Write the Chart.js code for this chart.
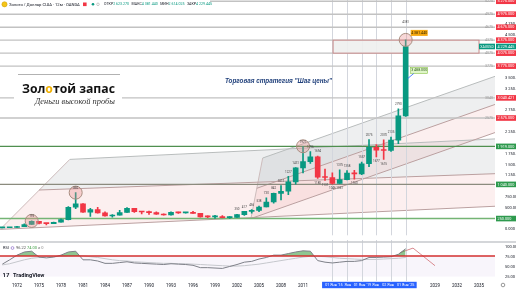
<!DOCTYPE html>
<html>
<head>
<meta charset="utf-8">
<script src="https://cdn.jsdelivr.net/npm/chart.js@4.4.0/dist/chart.umd.min.js"></script>
<style>
html, body { margin: 0; padding: 0; background: #fff; }
#wrap { position: relative; width: 516px; height: 290px; overflow: hidden; }
#price { position: absolute; left: 0; top: 0; }
#rsi { position: absolute; left: 0; top: 240px; }
</style>
</head>
<body>
<div id="wrap">
<canvas id="price" width="516" height="240"></canvas>
<canvas id="rsi" width="516" height="50"></canvas>
</div>
<script>
// yearly candles, XAUUSD
var years = [1970,1971,1972,1973,1974,1975,1976,1977,1978,1979,
  1980,1981,1982,1983,1984,1985,1986,1987,1988,1989,
  1990,1991,1992,1993,1994,1995,1996,1997,1998,1999,
  2000,2001,2002,2003,2004,2005,2006,2007,2008,2009,
  2010,2011,2012,2013,2014,2015,2016,2017,2018,2019,
  2020,2021,2022,2023,2024,2025];
var opens = [35.2,37.4,43.6,64.9,112.3,186.5,140.3,134.5,165.0,226.0,
  512.0,589.5,397.5,456.9,381.5,309.0,327.0,390.9,486.5,410.1,
  401.0,386.2,353.2,332.9,391.8,383.3,387.0,369.2,290.2,287.8,
  288.7,272.7,279.0,342.8,416.3,438.0,517.1,632.0,833.8,882.1,
  1096.5,1421.2,1565.8,1675.3,1204.5,1199.3,1061.0,1151.7,1302.7,1281.7,
  1517.3,1897.4,1828.6,1824.0,2062.8,2623.27];
var highs = [39.2,43.9,70.0,127.0,195.0,186.5,140.9,168.2,243.7,525.0,
  850.0,599.3,488.5,511.0,406.0,340.0,442.8,502.3,485.0,417.2,
  424.0,403.0,360.0,406.7,397.5,396.3,415.7,367.8,313.2,326.0,
  316.6,293.3,349.9,417.3,456.2,537.6,730.0,841.9,1011.3,1226.6,
  1431.3,1921.2,1796.1,1694.4,1392.0,1307.5,1375.1,1357.6,1366.1,1557.0,
  2075.2,1959.2,2070.4,2135.4,2790.1,4381.44];
var lows = [34.9,37.3,43.6,63.8,112.3,128.8,103.5,129.4,165.0,216.0,
  481.5,391.3,297.0,374.5,303.3,284.3,326.3,390.0,389.7,356.3,
  345.9,344.0,329.8,326.1,369.7,372.4,367.1,283.0,273.4,252.8,
  263.8,255.1,277.8,319.9,373.3,411.1,516.6,603.8,681.0,802.6,
  1043.2,1307.4,1527.0,1180.1,1131.4,1046.2,1061.0,1146.2,1160.4,1266.1,
  1451.2,1676.9,1614.9,1804.3,1984.3,2614.025];
var closes = [37.4,43.6,64.9,112.3,186.5,140.3,134.5,165.0,226.0,512.0,
  589.5,397.5,456.9,381.5,309.0,327.0,390.9,486.5,410.1,401.0,
  386.2,353.2,332.9,391.8,383.3,387.0,369.2,290.2,287.8,288.7,
  272.7,279.0,342.8,416.3,438.0,517.1,632.0,833.8,882.1,1096.5,
  1421.2,1565.8,1675.3,1204.5,1199.3,1061.0,1151.7,1302.7,1281.7,1517.3,
  1897.4,1828.6,1824.0,2062.8,2623.27,4229.445];

// RSI(14) and its moving average
var rsiVals = [57,68,80,88,90,75,73,75,80,88,
  90,68,68,65,59,59,61,63,60,59,
  58,57,56,58,57,56,54,48,48,47,
  46,51,56,62,64,70,74,80,80,84,
  88,91,90,66,62,60,62,64,64,66,
  74,74,75,76,82,96.22];
var rsiMa = [55,58,63,68,72,74,76,76,77,78,
  79,78,76,74,71,68,66,65,63,62,
  61,60,59,59,58,58,57,56,55,54,
  53,52,52,53,55,57,60,63,66,69,
  72,75,77,77,76,74,72,71,70,69,
  69,69,70,71,72,74];
var rsiLevel = 78;
var rsiDrawX = [2024.2, 2026.0, 2029.0];
var rsiDrawY = [86, 98, 53];

// axis ticks
var priceTicks = [0,500,750,1250,1500,1750,2250,2750,3250,3500,4250,4500,4750];
var rsiTicks = [25,50,75,100];
var yearTicks = [1972,1975,1978,1981,1984,1987,1990,1993,1996,1999,2002,2005,2008,2011,2029,2032,2035];
var rangeYears = [2015.2,2017.1,2019.1,2020.9,2022.6,2025];
var rangeLabels = ["01 Янв '15","Янв","01 Янв '19","Янв","02 Янв","01 Янв '25"];

// drawings (year, price)
var resistLevels = [5275,4975,4675,4375,4075,3775,3040.421,2575];
var supportLevels = [1919,1040,250];
var markerYears = [2015,2017,2019,2021,2023,2025];
var chanOneTop = [[1979.2,1618],[2037.2,2092]];
var chanOneMid = [[1975.0,910],[2037.2,1288]];
var chanOneBot = [[1969.7,0],[2037.2,535]];
var chanTwoTop = [[2005.5,1650],[2037.2,3540]];
var chanTwoMid = [[2004.7,950],[2037.2,2890]];
var chanTwoBot = [[2003.9,250],[2037.2,2240]];
var zoneBox = [[2015.1,4375],[2035.0,4075]];
var circleMarks = [[1974,195],[1980,850],[2011,1921.2],[2025,4381.44]];
var noteLevel = 3488;
var highNoteYears = [1974,1980,2002,2003,2004,2005,2006,2007,2008,2009,2010,2011,2012,2013,2016,2017,2019,2020,2022,2023,2024,2025];
var lowNoteYears = [2013,2014,2015,2016,2018,2021,2022];

var FONT = 'Roboto, "Liberation Sans", sans-serif';
var GREEN = '#089981', RED = '#f23645';
var xMin = 1969.68, xMax = 2037.18;
Chart.defaults.font.family = FONT;

function fmtPrice(v) {
  var p = v.toFixed(3).split('.');
  var i = p[0];
  if (i.length > 3) i = i.slice(0, -3) + ' ' + i.slice(-3);
  return i + '.' + p[1];
}
function fitFont(c, text, style, family, width, base) {
  c.font = style + ' ' + base + 'px ' + family;
  var s = base * width / c.measureText(text).width;
  c.font = style + ' ' + s + 'px ' + family;
}

var candleColors = years.map(function (y, i) { return closes[i] >= opens[i] ? GREEN : RED; });

var pricePlugin = {
  id: 'priceOverlay',
  beforeDatasetsDraw: function (chart) {
    var c = chart.ctx, a = chart.chartArea, X = chart.scales.x, Y = chart.scales.y;
    var px = function (v) { return X.getPixelForValue(v); };
    var py = function (v) { return Y.getPixelForValue(v); };
    c.save();
    c.beginPath(); c.rect(a.left, 0, a.right - a.left, a.bottom); c.clip();

    function band(top, bot, fill) {
      c.beginPath();
      c.moveTo(px(top[0][0]), py(top[0][1]));
      c.lineTo(px(top[1][0]), py(top[1][1]));
      c.lineTo(px(bot[1][0]), py(bot[1][1]));
      c.lineTo(px(bot[0][0]), py(bot[0][1]));
      c.closePath(); c.fillStyle = fill; c.fill();
    }
    function seg(l, col) {
      c.beginPath();
      c.moveTo(px(l[0][0]), py(l[0][1])); c.lineTo(px(l[1][0]), py(l[1][1]));
      c.strokeStyle = col; c.lineWidth = 1; c.stroke();
    }
    band(chanOneTop, chanOneMid, 'rgba(120,135,140,0.13)');
    band(chanOneMid, chanOneBot, 'rgba(225,95,95,0.10)');
    band(chanTwoTop, chanTwoMid, 'rgba(120,135,140,0.13)');
    band(chanTwoMid, chanTwoBot, 'rgba(225,95,95,0.10)');
    seg([chanOneBot[0], chanOneTop[0]], '#cdbcbc');
    seg([chanTwoBot[0], chanTwoTop[0]], '#cdbcbc');
    seg(chanOneTop, '#b9bdbd'); seg(chanOneMid, '#bba0a0'); seg(chanOneBot, '#bba0a0');
    seg(chanTwoTop, '#b9bdbd'); seg(chanTwoMid, '#bba0a0'); seg(chanTwoBot, '#bba0a0');

    // vertical markers
    c.strokeStyle = '#d3d6dd'; c.lineWidth = 1;
    markerYears.forEach(function (yr) {
      var x = Math.round(px(yr)) + 0.5;
      c.beginPath(); c.moveTo(x, 0); c.lineTo(x, a.bottom); c.stroke();
    });

    // horizontal levels
    c.lineWidth = 1.4;
    resistLevels.forEach(function (v) {
      c.strokeStyle = '#c2c2c2';
      c.beginPath(); c.moveTo(a.left, py(v)); c.lineTo(a.right, py(v)); c.stroke();
    });
    var supCols = ['#4f8f4f', '#8b8b7e', '#74b474'];
    supportLevels.forEach(function (v, i) {
      c.strokeStyle = supCols[i];
      c.beginPath(); c.moveTo(a.left, py(v)); c.lineTo(a.right, py(v)); c.stroke();
    });

    // zone rectangle
    var bx0 = px(zoneBox[0][0]), by0 = py(zoneBox[0][1]), bx1 = px(zoneBox[1][0]), by1 = py(zoneBox[1][1]);
    c.fillStyle = 'rgba(238,240,238,0.9)';
    c.fillRect(bx0, by0, bx1 - bx0, by1 - by0);
    c.strokeStyle = '#c98b8b'; c.lineWidth = 1;
    c.strokeRect(bx0, by0, bx1 - bx0, by1 - by0);

    // logo block
    c.fillStyle = '#fff';
    c.fillRect(14, 74, 108, 32);
    c.strokeStyle = '#9e9e9e'; c.lineWidth = 0.8;
    c.beginPath(); c.moveTo(18, 74.5); c.lineTo(120, 74.5); c.stroke();
    var title = ['Зол', 'о', 'той запас'];
    fitFont(c, title.join(''), 'bold', '"Open Sans", sans-serif', 93, 13);
    c.textBaseline = 'alphabetic'; c.textAlign = 'left';
    var tx = 22;
    title.forEach(function (t, i) {
      c.fillStyle = i === 1 ? '#f0b000' : '#111';
      c.fillText(t, tx, 92.5);
      tx += c.measureText(t).width;
    });
    fitFont(c, 'Деньги высокой пробы', 'italic', '"Liberation Serif", serif', 80, 8);
    c.fillStyle = '#333';
    c.fillText('Деньги высокой пробы', 35, 103.5);

    // strategy caption
    var cap = 'Торговая стратегия "Шаг цены"';
    fitFont(c, cap, 'bold italic', '"Liberation Sans", sans-serif', 107, 7);
    c.fillStyle = '#1f3f7a';
    c.fillText(cap, 225, 82.5);
    c.restore();
  },
  afterDatasetsDraw: function (chart) {
    var c = chart.ctx, a = chart.chartArea, X = chart.scales.x, Y = chart.scales.y;
    var px = function (v) { return X.getPixelForValue(v); };
    var py = function (v) { return Y.getPixelForValue(v); };
    c.save();

    // circles
    circleMarks.forEach(function (m) {
      c.beginPath(); c.arc(px(m[0]), py(m[1]), 6.5, 0, Math.PI * 2);
      c.fillStyle = 'rgba(235,140,140,0.35)'; c.fill();
      c.strokeStyle = '#a88d80'; c.lineWidth = 1; c.stroke();
    });

    // small price notes
    c.font = '3px ' + FONT; c.fillStyle = '#444'; c.textAlign = 'center';
    highNoteYears.forEach(function (yr) {
      var i = years.indexOf(yr);
      var off = yr === 2025 ? 16 : 3;
      c.textBaseline = 'bottom';
      c.fillText(String(Math.round(highs[i])), px(yr), py(highs[i]) - off);
    });
    lowNoteYears.forEach(function (yr) {
      var i = years.indexOf(yr);
      c.textBaseline = 'top';
      c.fillText(String(Math.round(lows[i])), px(yr), py(lows[i]) + 3);
    });

    // level captions near right edge
    c.font = '3.6px ' + FONT; c.fillStyle = '#9a9a9a'; c.textAlign = 'right'; c.textBaseline = 'middle';
    resistLevels.forEach(function (v) { c.fillText(String(Math.round(v)), a.right - 2, py(v)); });

    // high label (orange) and note label (green)
    var last = years.length - 1;
    var hx = px(years[last]) + 5, hy = py(highs[last]) - 7;
    c.fillStyle = '#f5a70f'; c.fillRect(hx, hy - 3, 17, 6);
    c.font = '3.6px ' + FONT; c.fillStyle = '#3a2a00'; c.textAlign = 'center';
    c.fillText(fmtPrice(highs[last]), hx + 8.5, hy);
    var ny = py(noteLevel) - 8;
    c.fillStyle = '#dff5c8'; c.fillRect(hx, ny - 3, 17, 6);
    c.strokeStyle = '#8bc34a'; c.lineWidth = 0.6; c.strokeRect(hx, ny - 3, 17, 6);
    c.fillStyle = '#2e5d1a'; c.fillText(fmtPrice(noteLevel), hx + 8.5, ny);
    c.strokeStyle = '#2962ff'; c.lineWidth = 0.8;
    c.beginPath(); c.moveTo(hx + 3, ny + 3); c.lineTo(px(years[last]) + 2, py(noteLevel)); c.stroke();
    c.restore();
  },
  afterDraw: function (chart) {
    var c = chart.ctx, a = chart.chartArea, Y = chart.scales.y;
    var py = function (v) { return Y.getPixelForValue(v); };
    c.save();
    c.font = '3.8px ' + FONT; c.textBaseline = 'middle'; c.textAlign = 'left';
    function tag(v, col, text) {
      var y = py(v);
      c.fillStyle = col; c.fillRect(a.right + 1, y - 2.8, 20, 5.6);
      c.fillStyle = '#fff'; c.fillText(text, a.right + 2.5, y + 0.2);
    }
    resistLevels.forEach(function (v) { tag(v, RED, fmtPrice(v)); });
    supportLevels.forEach(function (v) { tag(v, '#2e9a4e', fmtPrice(v)); });
    tag(closes[closes.length - 1], GREEN, fmtPrice(closes[closes.length - 1]));
    var cy = py(closes[closes.length - 1]);
    c.fillStyle = GREEN; c.fillRect(a.right - 16, cy - 2.8, 16, 5.6);
    c.fillStyle = '#fff'; c.textAlign = 'center'; c.font = '3.5px ' + FONT;
    c.fillText('XAUUSD', a.right - 8, cy + 0.2);

    // header
    c.fillStyle = '#fff'; c.fillRect(0, 0, 210, 8.5);
    c.beginPath(); c.arc(4.5, 4.3, 2.6, 0, Math.PI * 2);
    c.fillStyle = '#f5c518'; c.fill(); c.strokeStyle = '#c99a00'; c.lineWidth = 0.5; c.stroke();
    c.textAlign = 'left'; c.fillStyle = '#131722';
    fitFont(c, 'Золото / Доллар США · 12м · OANDA', '', FONT, 71, 4.5);
    c.fillText('Золото / Доллар США · 12м · OANDA', 9, 4.5);
    c.fillStyle = RED; c.fillRect(83, 2.5, 3.6, 3.6);
    c.beginPath(); c.arc(93, 4.3, 1.3, 0, Math.PI * 2); c.fillStyle = GREEN; c.fill();
    c.beginPath(); c.arc(98, 4.3, 1.3, 0, Math.PI * 2); c.strokeStyle = '#999'; c.lineWidth = 0.5; c.stroke();
    var parts = [['ОТКР', opens], ['МАКС', highs], ['МИН', lows], ['ЗАКР', closes]];
    var x = 104; c.font = '3.6px ' + FONT;
    parts.forEach(function (p) {
      c.fillStyle = '#131722'; c.fillText(p[0], x, 4.5); x += c.measureText(p[0]).width;
      var val = fmtPrice(p[1][p[1].length - 1]);
      c.fillStyle = GREEN; c.fillText(val, x, 4.5); x += c.measureText(val).width + 2.5;
    });
    c.restore();
  }
};

new Chart(document.getElementById('price'), {
  type: 'bar',
  data: {
    datasets: [
      {
        label: 'wick',
        data: years.map(function (y, i) { return { x: y, y: [lows[i], highs[i]] }; }),
        backgroundColor: candleColors, barThickness: 1, grouped: false, order: 2
      },
      {
        label: 'body',
        data: years.map(function (y, i) { return { x: y, y: [opens[i], closes[i]] }; }),
        backgroundColor: candleColors, barThickness: 5, grouped: false, minBarLength: 1, order: 1
      }
    ]
  },
  options: {
    responsive: false,
    animation: false,
    layout: { padding: { top: 8, bottom: 2, left: 0, right: 0 } },
    plugins: { legend: { display: false }, tooltip: { enabled: false } },
    scales: {
      x: { type: 'linear', min: xMin, max: xMax, display: false, offset: false },
      y: {
        position: 'right', min: -144, max: 5119,
        grid: { display: false }, border: { display: false },
        afterFit: function (s) { s.width = 21; },
        afterBuildTicks: function (s) { s.ticks = priceTicks.map(function (v) { return { value: v }; }); },
        ticks: { font: { size: 4 }, color: '#131722', padding: 2, callback: function (v) { return fmtPrice(v); } }
      }
    }
  },
  plugins: [pricePlugin]
});

var rsiPlugin = {
  id: 'rsiOverlay',
  beforeDatasetsDraw: function (chart) {
    var c = chart.ctx, a = chart.chartArea, X = chart.scales.x, Y = chart.scales.y;
    c.save();
    c.fillStyle = 'rgba(149,117,205,0.07)';
    c.fillRect(a.left, Y.getPixelForValue(rsiLevel), a.right - a.left, Y.getPixelForValue(25) - Y.getPixelForValue(rsiLevel));
    c.strokeStyle = '#d3d6dd'; c.lineWidth = 1;
    markerYears.forEach(function (yr) {
      var x = Math.round(X.getPixelForValue(yr)) + 0.5;
      c.beginPath(); c.moveTo(x, 0); c.lineTo(x, a.bottom); c.stroke();
    });
    c.strokeStyle = '#c6c8cd'; c.lineWidth = 1.6;
    c.beginPath(); c.moveTo(0, 2); c.lineTo(516, 2); c.stroke();
    c.restore();
  },
  afterDatasetsDraw: function (chart) {
    var c = chart.ctx, a = chart.chartArea, Y = chart.scales.y;
    c.save();
    c.strokeStyle = '#d32f2f'; c.lineWidth = 1.5;
    var ly = Y.getPixelForValue(rsiLevel);
    c.beginPath(); c.moveTo(a.left, ly); c.lineTo(a.right, ly); c.stroke();
    c.restore();
  },
  afterDraw: function (chart) {
    var c = chart.ctx, a = chart.chartArea, X = chart.scales.x;
    c.save();
    c.textBaseline = 'middle'; c.textAlign = 'left';
    c.font = '4px ' + FONT; c.fillStyle = '#131722';
    c.fillText('RSI', 3, 8);
    c.beginPath(); c.arc(12.5, 8, 1.4, 0, Math.PI * 2); c.strokeStyle = '#7e57c2'; c.lineWidth = 0.6; c.stroke();
    c.fillStyle = '#555'; c.fillText(rsiVals[rsiVals.length - 1].toFixed(2), 16, 8);
    c.fillStyle = '#43a047'; c.fillText(rsiMa[rsiMa.length - 1].toFixed(2), 27, 8);
    c.fillStyle = '#888'; c.fillText('ø 0', 38, 8);

    // TradingView mark
    c.font = 'bold 6px ' + FONT; c.fillStyle = '#131722';
    c.fillText('17', 2.5, 35.5);
    c.font = 'bold 5.6px ' + FONT;
    c.fillText('TradingView', 13, 35.5);

    // highlighted time range
    var x0 = X.getPixelForValue(2013.6), x1 = X.getPixelForValue(2026.5);
    c.fillStyle = '#2962ff'; c.fillRect(x0, 41.8, x1 - x0, 6.4);
    c.fillStyle = '#fff'; c.font = '3.7px ' + FONT; c.textAlign = 'center';
    rangeYears.forEach(function (yr, i) { c.fillText(rangeLabels[i], X.getPixelForValue(yr), 45.1); });
    c.beginPath(); c.arc(503, 45, 1.8, 0, Math.PI * 2); c.strokeStyle = '#555'; c.lineWidth = 0.6; c.stroke();
    c.restore();
  }
};

new Chart(document.getElementById('rsi'), {
  type: 'line',
  data: {
    datasets: [
      {
        label: 'RSI',
        data: years.map(function (y, i) { return { x: y, y: rsiVals[i] }; }),
        borderColor: '#7e8088', borderWidth: 1, pointRadius: 0, tension: 0,
        fill: { target: { value: rsiLevel }, above: 'rgba(67,160,71,0.6)', below: 'rgba(0,0,0,0)' }
      },
      {
        label: 'MA',
        data: years.map(function (y, i) { return { x: y, y: rsiMa[i] }; }),
        borderColor: '#c5c7cc', borderWidth: 1, pointRadius: 0, tension: 0, fill: false
      },
      {
        label: 'draw',
        data: rsiDrawX.map(function (x, i) { return { x: x, y: rsiDrawY[i] }; }),
        borderColor: '#d98a8f', borderWidth: 1, pointRadius: 0, tension: 0, fill: false
      }
    ]
  },
  options: {
    responsive: false,
    animation: false,
    layout: { padding: { top: 3, bottom: 0, left: 0, right: 0 } },
    plugins: { legend: { display: false }, tooltip: { enabled: false } },
    scales: {
      x: {
        type: 'linear', min: xMin, max: xMax, offset: false,
        grid: { display: false, drawTicks: false }, border: { display: false },
        afterFit: function (s) { s.height = 9; },
        afterBuildTicks: function (s) { s.ticks = yearTicks.map(function (v) { return { value: v }; }); },
        ticks: { font: { size: 4.5 }, color: '#131722', padding: 2, maxRotation: 0, autoSkip: false,
          callback: function (v) { return String(Math.round(v)); } }
      },
      y: {
        position: 'right', min: 13.9, max: 107.4,
        grid: { display: false }, border: { display: false },
        afterFit: function (s) { s.width = 21; },
        afterBuildTicks: function (s) { s.ticks = rsiTicks.map(function (v) { return { value: v }; }); },
        ticks: { font: { size: 4 }, color: '#131722', padding: 2, callback: function (v) { return v.toFixed(2); } }
      }
    }
  },
  plugins: [rsiPlugin]
});
</script>
</body>
</html>
